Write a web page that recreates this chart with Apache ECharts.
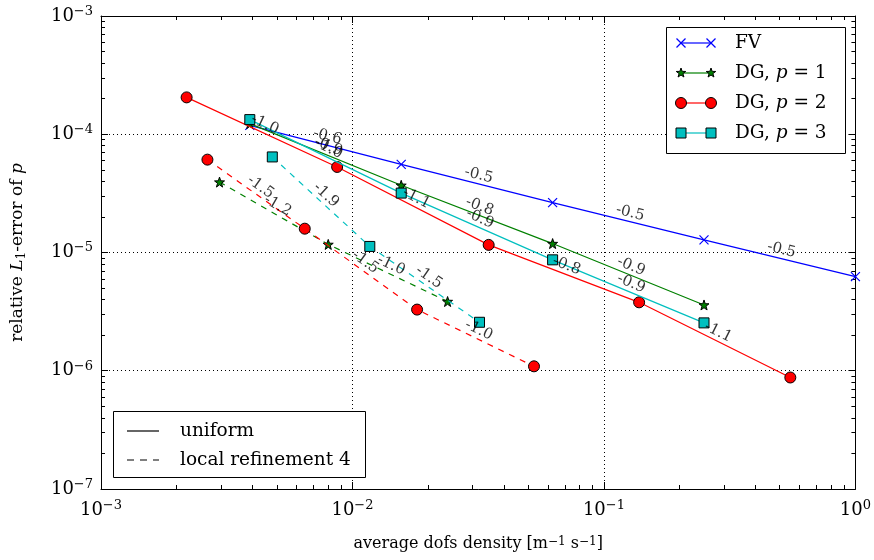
<!DOCTYPE html>
<html>
<head>
<meta charset="utf-8">
<script src="https://cdn.jsdelivr.net/npm/echarts@6/dist/echarts.min.js"></script>
<style>
  html, body { margin: 0; padding: 0; background: #fff; }
  #chart { width: 874px; height: 560px; }
</style>
</head>
<body>
<div id="chart"></div>
<script>
// Average dofs density of the uniform meshes (FV, DG p=1, DG p=3)
const densityUniform = [1 / 256, 1 / 64, 1 / 16, 1 / 4, 1];
// DG p=2 uniform meshes
const densityDG2 = [0.00219, 0.00869, 0.0348, 0.138, 0.551];
// local refinement (level 4)
const densityDG1Local = [0.00296, 0.00801, 0.02389];
const densityDG2Local = [0.00265, 0.00646, 0.01807, 0.0527];
const densityDG3Local = [0.0048, 0.01172, 0.0320];

// relative L1-error of p
const errFV = [1.19e-4, 5.57e-5, 2.64e-5, 1.28e-5, 6.26e-6];
const errDG1 = [1.23e-4, 3.70e-5, 1.19e-5, 3.60e-6];
const errDG2 = [2.05e-4, 5.29e-5, 1.16e-5, 3.79e-6, 8.77e-7];
const errDG3 = [1.33e-4, 3.18e-5, 8.67e-6, 2.54e-6];
const errDG1Local = [3.94e-5, 1.17e-5, 3.85e-6];
const errDG2Local = [6.10e-5, 1.59e-5, 3.29e-6, 1.09e-6];
const errDG3Local = [6.43e-5, 1.125e-5, 2.57e-6];

// convergence rates written along each segment
const rateFV = ['-0.6', '-0.5', '-0.5', '-0.5'];
const rateDG1 = ['-0.9', '-0.8', '-0.9'];
const rateDG2 = ['-1.0', '-1.1', '-0.8', '-1.1'];
const rateDG3 = ['-1.0', '-0.9', '-0.9'];
const rateDG1Local = ['-1.2', '-1.0'];
const rateDG2Local = ['-1.5', '-1.5', '-1.0'];
const rateDG3Local = ['-1.9', '-1.5'];

// axis decades (as exponents)
const xExpRange = [-3, 0];
const yExpRange = [-7, -3];

// Minor ticks (2..9 per decade) live on a fine category axis in exponent
// steps of 1/1000 decade; only the indices nearest to log10(k) get a tick.
const STEPS = 1000;
function minorAxisData(range) {
  const n = (range[1] - range[0]) * STEPS + 1;
  const cats = [];
  for (let i = 0; i < n; i++) cats.push(String(i));
  const marks = new Set();
  for (let e = range[0]; e < range[1]; e++) {
    for (let k = 2; k <= 9; k++) marks.add(Math.round((e - range[0] + Math.log10(k)) * STEPS));
  }
  return { cats, marks };
}
const xMinor = minorAxisData(xExpRange);
const yMinor = minorAxisData(yExpRange);

const SERIF = "'DejaVu Serif', 'Liberation Serif', serif";
const BLUE = '#0000ff', GREEN = '#008000', RED = '#ff0000', CYAN = '#00bfbf';

// five-pointed star outline used as marker
function starPath(cx, cy, R, r) {
  const pts = [];
  for (let i = 0; i < 10; i++) {
    const a = (-90 + 36 * i) * Math.PI / 180;
    const rad = i % 2 === 0 ? R : r;
    pts.push([cx + rad * Math.cos(a), cy + rad * Math.sin(a)]);
  }
  return pts;
}
const starSymbol = 'path://' + starPath(10, 10, 10, 4).map((p, i) => (i ? 'L' : 'M') + p[0].toFixed(2) + ',' + p[1].toFixed(2)).join('') + 'Z';
const crossSymbol = 'path://M0,0L10,10M0,10L10,0';

const pairs = (xs, ys) => ys.map((y, i) => [xs[i], y]);

const curves = [
  { name: 'FV', xs: densityUniform, ys: errFV, rates: rateFV, color: BLUE, symbol: crossSymbol, size: 9, dashed: false,
    item: { color: 'rgba(0,0,0,0)', borderColor: BLUE, borderWidth: 1.2 } },
  { name: 'DG1', xs: densityUniform, ys: errDG1, rates: rateDG1, color: GREEN, symbol: starSymbol, size: 10, dashed: false,
    item: { color: GREEN, borderColor: '#000', borderWidth: 1 } },
  { name: 'DG2', xs: densityDG2, ys: errDG2, rates: rateDG2, color: RED, symbol: 'circle', size: 11, dashed: false,
    item: { color: RED, borderColor: '#000', borderWidth: 1 } },
  { name: 'DG3', xs: densityUniform, ys: errDG3, rates: rateDG3, color: CYAN, symbol: 'rect', size: 10, dashed: false,
    item: { color: CYAN, borderColor: '#000', borderWidth: 1 } },
  { name: 'DG1 local', xs: densityDG1Local, ys: errDG1Local, rates: rateDG1Local, color: GREEN, symbol: starSymbol, size: 10, dashed: true,
    item: { color: GREEN, borderColor: '#000', borderWidth: 1 } },
  { name: 'DG2 local', xs: densityDG2Local, ys: errDG2Local, rates: rateDG2Local, color: RED, symbol: 'circle', size: 11, dashed: true,
    item: { color: RED, borderColor: '#000', borderWidth: 1 } },
  { name: 'DG3 local', xs: densityDG3Local, ys: errDG3Local, rates: rateDG3Local, color: CYAN, symbol: 'rect', size: 10, dashed: true,
    item: { color: CYAN, borderColor: '#000', borderWidth: 1 } }
];

function powLabel(v) {
  const e = Math.round(Math.log10(v));
  return e === 0 ? '{b|10}{e|0}' : '{b|10}{e|\u2212' + (-e) + '}';
}
const powRich = {
  b: { fontFamily: SERIF, fontSize: 18, lineHeight: 22, color: '#000' },
  e: { fontFamily: SERIF, fontSize: 13, lineHeight: 13, verticalAlign: 'top', color: '#000' }
};

const chart = echarts.init(document.getElementById('chart'), null, { renderer: 'canvas' });

// major axis (log scale, carries the data) plus a decorative minor-tick axis on the same side
function axisPair(kind, pos, withLabels, name) {
  const isX = kind === 'x';
  const range = isX ? { min: 1e-3, max: 1 } : { min: 1e-7, max: 1e-3 };
  const mt = isX ? xMinor : yMinor;
  const major = Object.assign({
    type: 'log', logBase: 10, position: pos, ...range,
    axisLine: { show: true, onZero: false, lineStyle: { color: '#000', width: 1 } },
    axisTick: { show: true, inside: true, length: 7, lineStyle: { color: '#000', width: 1 } },
    axisLabel: withLabels ? { show: true, formatter: powLabel, rich: powRich, margin: isX ? 10 : 8 } : { show: false },
    splitLine: withLabels ? { show: true, lineStyle: { color: '#000', width: 1, type: [1, 3] } } : { show: false },
    minorTick: { show: false }
  }, name || {});
  const minor = {
    type: 'category', position: pos, data: mt.cats, boundaryGap: false,
    axisLine: { show: false, onZero: false },
    axisTick: { show: true, inside: true, length: 4, interval: (idx) => mt.marks.has(idx), lineStyle: { color: '#000', width: 1 } },
    axisLabel: { show: false },
    splitLine: { show: false },
    axisPointer: { show: false }
  };
  return [major, minor];
}

const xAxes = [
  ...axisPair('x', 'bottom', true, {
    name: 'average dofs density [m{s|\u22121} s{s|\u22121}]',
    nameLocation: 'middle', nameGap: 47,
    nameTextStyle: {
      fontFamily: SERIF, fontSize: 16, color: '#000',
      rich: { s: { fontFamily: SERIF, fontSize: 12, verticalAlign: 'top', lineHeight: 12, color: '#000' } }
    }
  }),
  ...axisPair('x', 'top', false)
];
const yAxes = [
  ...axisPair('y', 'left', true, {
    name: 'relative {i|L}{sub|1}-error of {i|p}',
    nameLocation: 'middle', nameGap: 73, nameRotate: 90,
    nameTextStyle: {
      fontFamily: SERIF, fontSize: 17, lineHeight: 20, color: '#000',
      rich: {
        i: { fontFamily: SERIF, fontStyle: 'italic', fontSize: 17, lineHeight: 20, color: '#000' },
        sub: { fontFamily: SERIF, fontSize: 12, lineHeight: 12, verticalAlign: 'bottom', color: '#000' }
      }
    }
  }),
  ...axisPair('y', 'right', false)
];

function buildSeries(angles) {
  const list = [];
  curves.forEach((c, ci) => {
    list.push({
      type: 'line', name: c.name, xAxisIndex: 0, yAxisIndex: 0,
      data: pairs(c.xs, c.ys),
      symbol: c.symbol, symbolSize: c.size, showSymbol: true, showAllSymbol: true,
      lineStyle: { color: c.color, width: 1.2, type: c.dashed ? [6, 6] : 'solid' },
      itemStyle: c.item,
      emphasis: { disabled: true },
      clip: false, z: 2 + ci
    });
    // rate labels at the (log-space) midpoint of each segment
    const mids = c.rates.map((txt, i) => ({
      value: [Math.sqrt(c.xs[i] * c.xs[i + 1]), Math.sqrt(c.ys[i] * c.ys[i + 1])],
      label: { rotate: angles ? angles[ci][i] : 0, formatter: txt }
    }));
    list.push({
      type: 'scatter', xAxisIndex: 0, yAxisIndex: 0, data: mids,
      symbolSize: 0, silent: true, z: 20,
      label: { show: true, position: 'top', distance: 1, fontFamily: SERIF, fontSize: 15, color: '#000' }
    });
  });
  return list;
}

// legend boxes drawn with graphic primitives
function legendGraphics() {
  const FS = 18.5;
  const g = [];
  const txt = (x, y, text, rich) => ({
    type: 'text', x, y, z: 100,
    style: { text, fontFamily: SERIF, fontSize: FS, fill: '#000', verticalAlign: 'middle', align: 'left', rich: rich || {} }
  });
  // top-right: methods
  g.push({ type: 'rect', z: 99, shape: { x: 666.5, y: 27.5, width: 179, height: 126 }, style: { fill: '#fff', stroke: '#000', lineWidth: 1 } });
  const rows = [43, 73, 103, 133];
  const x1 = 681, x2 = 711;
  const lineEl = (y, color) => ({ type: 'line', z: 100, shape: { x1, y1: y, x2, y2: y }, style: { stroke: color, lineWidth: 1.2 } });
  // FV
  g.push(lineEl(rows[0], BLUE));
  [x1, x2].forEach(x => {
    g.push({ type: 'line', z: 101, shape: { x1: x - 4.5, y1: rows[0] - 4.5, x2: x + 4.5, y2: rows[0] + 4.5 }, style: { stroke: BLUE, lineWidth: 1.2 } });
    g.push({ type: 'line', z: 101, shape: { x1: x - 4.5, y1: rows[0] + 4.5, x2: x + 4.5, y2: rows[0] - 4.5 }, style: { stroke: BLUE, lineWidth: 1.2 } });
  });
  g.push(txt(735, rows[0], 'FV'));
  // DG p=1
  g.push(lineEl(rows[1], GREEN));
  [x1, x2].forEach(x => g.push({ type: 'polygon', z: 101, shape: { points: starPath(x, rows[1], 5, 2) }, style: { fill: GREEN, stroke: '#000', lineWidth: 1 } }));
  const pRich = { i: { fontFamily: SERIF, fontStyle: 'italic', fontSize: FS, color: '#000' } };
  g.push(txt(735, rows[1], 'DG, {i|p} = 1', pRich));
  // DG p=2
  g.push(lineEl(rows[2], RED));
  [x1, x2].forEach(x => g.push({ type: 'circle', z: 101, shape: { cx: x, cy: rows[2], r: 5.5 }, style: { fill: RED, stroke: '#000', lineWidth: 1 } }));
  g.push(txt(735, rows[2], 'DG, {i|p} = 2', pRich));
  // DG p=3
  g.push(lineEl(rows[3], CYAN));
  [x1, x2].forEach(x => g.push({ type: 'rect', z: 101, shape: { x: x - 5, y: rows[3] - 5, width: 10, height: 10 }, style: { fill: CYAN, stroke: '#000', lineWidth: 1 } }));
  g.push(txt(735, rows[3], 'DG, {i|p} = 3', pRich));

  // bottom-left: refinement type
  g.push({ type: 'rect', z: 99, shape: { x: 113.5, y: 411.5, width: 252, height: 66 }, style: { fill: '#fff', stroke: '#000', lineWidth: 1 } });
  g.push({ type: 'line', z: 100, shape: { x1: 127, y1: 431, x2: 159, y2: 431 }, style: { stroke: '#000', lineWidth: 1.2 } });
  g.push(txt(180, 431, 'uniform'));
  g.push({ type: 'line', z: 100, shape: { x1: 127, y1: 460, x2: 159, y2: 460 }, style: { stroke: '#000', lineWidth: 1.2, lineDash: [7, 6] } });
  g.push(txt(180, 460, 'local refinement 4'));
  return g;
}

const baseOption = {
  animation: false,
  backgroundColor: '#fff',
  grid: { left: 100, right: 18, top: 16, bottom: 71, containLabel: false },
  xAxis: xAxes,
  yAxis: yAxes,
  series: buildSeries(null),
  graphic: legendGraphics()
};
chart.setOption(baseOption);

// orient each rate label along its segment on screen
const angles = curves.map(c => c.rates.map((_, i) => {
  const p1 = chart.convertToPixel({ xAxisIndex: 0, yAxisIndex: 0 }, [c.xs[i], c.ys[i]]);
  const p2 = chart.convertToPixel({ xAxisIndex: 0, yAxisIndex: 0 }, [c.xs[i + 1], c.ys[i + 1]]);
  return -Math.atan2(p2[1] - p1[1], p2[0] - p1[0]) * 180 / Math.PI;
}));
chart.setOption({ series: buildSeries(angles) });
</script>
</body>
</html>
